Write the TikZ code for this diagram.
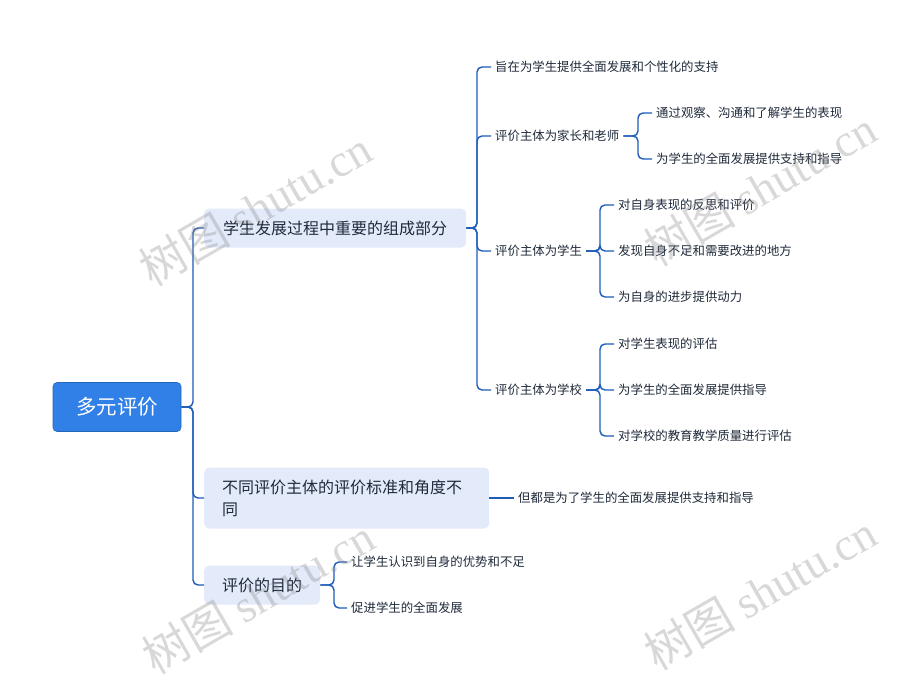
\documentclass[tikz,border=0pt]{standalone}
\usepackage{fontspec}
\setmainfont{Noto Sans CJK SC}
\newfontfamily\wmserif{Liberation Serif}
\newfontfamily\wmcjk{Noto Sans CJK SC}
\definecolor{rootblue}{HTML}{3080E8}
\definecolor{linkblue}{HTML}{1E5CB8}
\definecolor{branchbg}{HTML}{E3EBFB}
\definecolor{txt}{HTML}{1F2A3A}
\begin{document}
\begin{tikzpicture}[x=1pt,y=-1pt,
 root/.style={fill=rootblue, draw=rootblue!80!black, line width=0.6pt, rounded corners=4pt, text=white, font=\fontsize{20.5}{24}\selectfont, minimum width=128pt, minimum height=49pt, inner sep=0pt},
 branch/.style={fill=branchbg, rounded corners=5pt, text=txt, font=\fontsize{16}{22}\selectfont, inner xsep=19pt, minimum height=39pt, anchor=west},
 leaf/.style={text=txt, font=\fontsize{12.4}{15}\selectfont, inner xsep=4pt, inner ysep=2pt, anchor=west},
 link/.style={draw=linkblue, line width=1.4pt, rounded corners=5pt},
 wm/.style={text=gray, opacity=0.3, rotate=30, font=\fontsize{46}{50}\selectfont}
]
\useasboundingbox[fill=white] (0,0) rectangle (903,675);

% root and branches
\node[root] (root) at (117,407) {多元评价};
\node[branch] (b1) at (204,228) {学生发展过程中重要的组成部分};
\node[branch, text width=249pt, align=left, minimum height=61pt, inner xsep=18pt] (b2) at (204,498) {不同评价主体的评价标准和角度不\\同};
\node[branch, inner xsep=18pt] (b3) at (204,585) {评价的目的};

% level 2 under b1
\node[leaf] (a1) at (491,67) {旨在为学生提供全面发展和个性化的支持};
\node[leaf] (a2) at (491,136) {评价主体为家长和老师};
\node[leaf] (a3) at (491,251) {评价主体为学生};
\node[leaf] (a4) at (491,390) {评价主体为学校};

\node[leaf] (a21) at (652,113) {通过观察、沟通和了解学生的表现};
\node[leaf] (a22) at (652,159) {为学生的全面发展提供支持和指导};

\node[leaf] (a31) at (614,205) {对自身表现的反思和评价};
\node[leaf] (a32) at (614,251) {发现自身不足和需要改进的地方};
\node[leaf] (a33) at (614,297) {为自身的进步提供动力};

\node[leaf] (a41) at (614,344) {对学生表现的评估};
\node[leaf] (a42) at (614,390) {为学生的全面发展提供指导};
\node[leaf] (a43) at (614,436) {对学校的教育教学质量进行评估};

\node[leaf] (c1) at (514,498) {但都是为了学生的全面发展提供支持和指导};

\node[leaf] (d1) at (347,562) {让学生认识到自身的优势和不足};
\node[leaf] (d2) at (347,608) {促进学生的全面发展};

% connectors
\foreach \t in {b1,b2,b3} \draw[link] (root.east) -- (193,407) |- (\t.west);
\foreach \t in {a1,a2,a3,a4} \draw[link] (b1.east) -- (477,228) |- (\t.west);
\foreach \t in {a21,a22} \draw[link] (a2.east) -- (638,136) |- (\t.west);
\foreach \t in {a31,a32,a33} \draw[link] (a3.east) -- (600,251) |- (\t.west);
\foreach \t in {a41,a42,a43} \draw[link] (a4.east) -- (600,390) |- (\t.west);
\draw[link] (b2.east) -- (c1.west);
\foreach \t in {d1,d2} \draw[link] (b3.east) -- (334,585) |- (\t.west);

% watermarks
\node[wm] (w1) at (255,208) {\wmcjk 树图 \wmserif shutu.cn};
\node[wm] (w2) at (760,188) {\wmcjk 树图 \wmserif shutu.cn};
\node[wm] (w3) at (258,596) {\wmcjk 树图 \wmserif shutu.cn};
\node[wm] (w4) at (760,592) {\wmcjk 树图 \wmserif shutu.cn};
\end{tikzpicture}
\end{document}
